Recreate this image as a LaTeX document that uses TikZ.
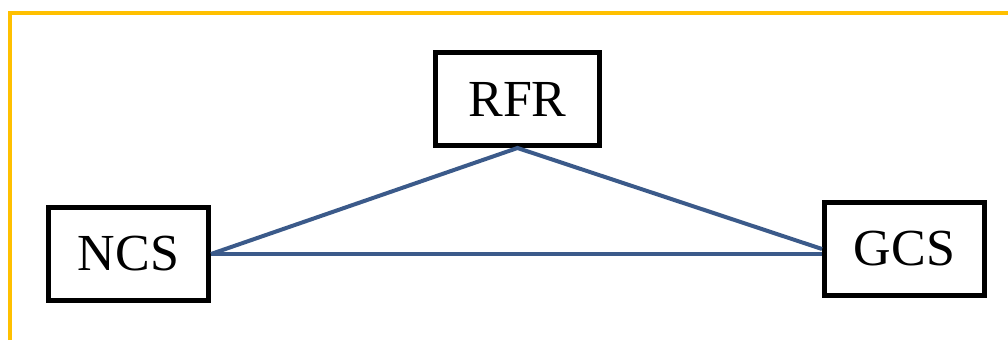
\documentclass[tikz,border=0pt]{standalone}
\usepackage{fontspec}
\setmainfont{Liberation Serif}
\usetikzlibrary{
    positioning
}
\definecolor{frameyellow}{RGB}{255,192,0}
\definecolor{linkblue}{RGB}{59,90,138}
\tikzset{
    base/.style={
        draw,
        line width = 5pt,
        minimum height = 93pt,
        minimum width  = 160pt,
        inner sep = 0pt,
        font = \fontsize{52}{60}\selectfont,
    },
    link/.style = {
        draw = linkblue,
        line width = 4pt,
    },
}

\begin{document}
\begin{tikzpicture}[x=1pt, y=1pt]
    \useasboundingbox (0,0) rectangle (1008,340);
    \draw [frameyellow, line width=4.5pt] (10,0) -- (10,327) -- (1008,327);

    \node (rfr) [base, minimum width=164pt] at (517.5,241) {RFR};
    \node (ncs) [below left=57pt and 222pt of rfr, base] {NCS};
    \node (gcs) [below right=52pt and 220pt of rfr, base] {GCS};

    \draw [link] (ncs.east) -- (rfr.south) -- (gcs.west);
    \draw [link] (ncs.east) -- (ncs.east -| gcs.west);
\end{tikzpicture}
\end{document}
